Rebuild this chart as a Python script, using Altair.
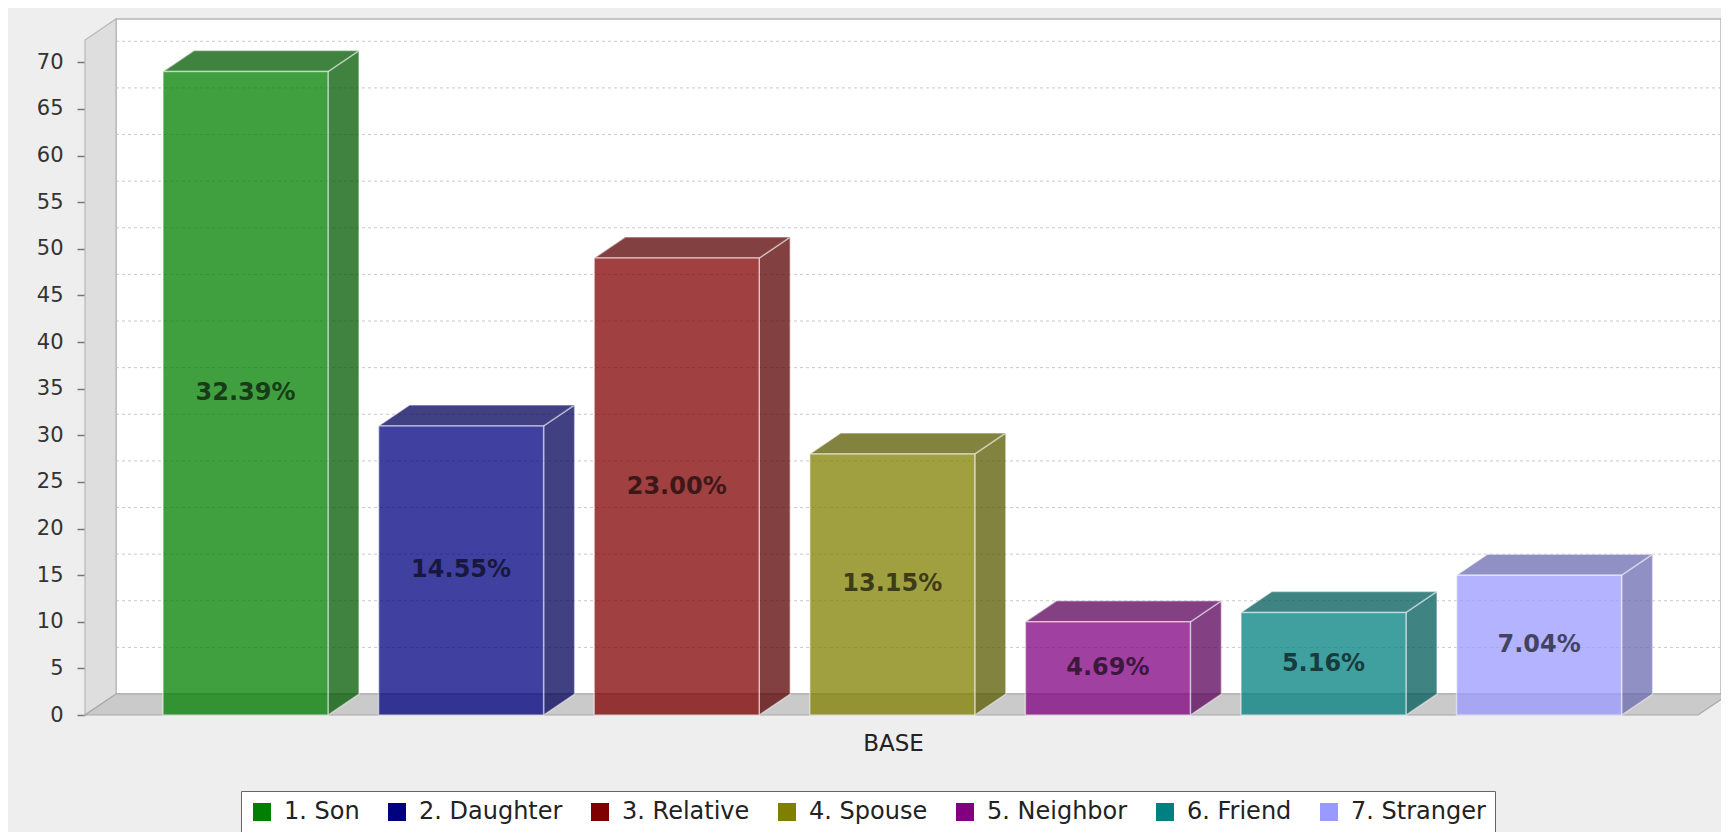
import altair as alt
import pandas as pd

# ---------------- data ----------------
categories = ["1. Son", "2. Daughter", "3. Relative", "4. Spouse",
              "5. Neighbor", "6. Friend", "7. Stranger"]
counts = [69, 31, 49, 28, 10, 11, 15]
series_colors = ["#008000", "#000080", "#800000", "#808000",
                 "#800080", "#008080", "#9999FF"]
y_ticks = [0, 5, 10, 15, 20, 25, 30, 35, 40, 45, 50, 55, 60, 65, 70]
axis_title = "BASE"

# ---------------- layout constants ----------------
W, H = 1636, 696
PX_PER_UNIT = 9.3243
Y_MAX = H / PX_PER_UNIT          # top of back wall (value units)
DX = 31                          # 3D depth, x (px units)
DY = 21 / PX_PER_UNIT            # 3D depth, y (value units)
FRONT_TOP = Y_MAX - DY
SLOT = 215.6
LEFT = 78
BAR_W = 165
FLOOR_W = 1613
FONT = "DejaVu Sans"


def darker(hexc, f=0.7):
    h = hexc.lstrip("#")
    r, g, b = (int(h[i:i + 2], 16) for i in (0, 2, 4))
    return "#%02x%02x%02x" % (int(r * f), int(g * f), int(b * f))


dark_colors = [darker(c) for c in series_colors]
total = sum(counts)

bars, sides, tops = [], [], []
for i, (cat, v) in enumerate(zip(categories, counts)):
    x0 = LEFT + i * SLOT
    x1 = x0 + BAR_W
    bars.append(dict(cat=cat, x0=x0, x1=x1, xm=(x0 + x1) / 2, v=v,
                     lo=0, ym=v / 2, label=f"{v / total * 100:.2f}%"))
    sides += [dict(cat=cat, x=x1, lo=0, hi=v),
              dict(cat=cat, x=x1 + DX, lo=DY, hi=v + DY)]
    tops += [dict(cat=cat, x=x0, lo=v, hi=v),
             dict(cat=cat, x=x0 + DX, lo=v, hi=v + DY),
             dict(cat=cat, x=x1, lo=v, hi=v + DY),
             dict(cat=cat, x=x1 + DX, lo=v + DY, hi=v + DY)]

bars_df = pd.DataFrame(bars)
sides_df = pd.DataFrame(sides)
tops_df = pd.DataFrame(tops)
wall_df = pd.DataFrame([dict(x0=DX, x1=W, lo=DY, hi=Y_MAX)])
grid_df = pd.DataFrame([dict(x0=DX, x1=W, y=t + DY) for t in y_ticks if t > 0])
left_df = pd.DataFrame([dict(x=0, lo=0, hi=FRONT_TOP),
                        dict(x=DX, lo=DY, hi=Y_MAX)])
floor_df = pd.DataFrame([dict(x=0, lo=0, hi=0),
                         dict(x=DX, lo=0, hi=DY),
                         dict(x=FLOOR_W, lo=0, hi=DY),
                         dict(x=FLOOR_W + DX, lo=DY, hi=DY)])

xscale = alt.Scale(domain=[0, W], nice=False, zero=False)
yscale = alt.Scale(domain=[0, Y_MAX], nice=False, zero=False)
xaxis = alt.Axis(title=axis_title, labels=False, ticks=False, domain=False,
                 grid=False, titleFont=FONT, titleFontSize=23,
                 titleFontWeight="normal", titleColor="#222222",
                 titleX=808, titleY=35, titleBaseline="alphabetic")
yaxis = alt.Axis(title=None, values=y_ticks, grid=False, domain=False,
                 tickSize=8, tickColor="#777777", tickWidth=1.5,
                 labelPadding=14, labelFont=FONT, labelFontSize=21,
                 labelColor="#333333")


def X(f):
    return alt.X(f, type="quantitative", scale=xscale, axis=xaxis)


def Y(f):
    return alt.Y(f, type="quantitative", scale=yscale, axis=yaxis, stack=None)


back_wall = alt.Chart(wall_df).mark_rect(
    fill="white", stroke="#B5B5B5", strokeWidth=1.5
).encode(x=X("x0"), x2="x1", y=Y("lo"), y2="hi")

grid = alt.Chart(grid_df).mark_rule(
    color="#C8C8C8", strokeWidth=1, strokeDash=[3, 3]
).encode(x=X("x0"), x2="x1", y=Y("y"))

left_wall = alt.Chart(left_df).mark_area(
    fill="#DEDEDE", stroke="#B8B8B8", strokeWidth=1.2
).encode(x=X("x"), y=Y("lo"), y2="hi")

floor = alt.Chart(floor_df).mark_area(
    fill="#CACACA", stroke="#A8A8A8", strokeWidth=1.2
).encode(x=X("x"), y=Y("lo"), y2="hi")

face_fill = alt.Fill("cat:N", scale=alt.Scale(domain=categories, range=dark_colors),
                     legend=None)

side_faces = alt.Chart(sides_df).mark_area(
    fillOpacity=0.75, stroke="white", strokeOpacity=0.45, strokeWidth=1.5
).encode(x=X("x"), y=Y("lo"), y2="hi", fill=face_fill)

top_faces = alt.Chart(tops_df).mark_area(
    fillOpacity=0.75, stroke="white", strokeOpacity=0.45, strokeWidth=1.5
).encode(x=X("x"), y=Y("lo"), y2="hi", fill=face_fill)

fronts = alt.Chart(bars_df).mark_bar(
    fillOpacity=0.75, stroke="white", strokeOpacity=0.5, strokeWidth=1.5
).encode(
    x=X("x0"), x2="x1", y=Y("lo"), y2="v",
    color=alt.Color("cat:N", scale=alt.Scale(domain=categories, range=series_colors),
                    legend=alt.Legend(
                        title=None, orient="none", legendX=156, legendY=772,
                        direction="horizontal", columns=7,
                        fillColor="white", strokeColor="#666666", padding=9,
                        symbolType="square", symbolSize=324, symbolOpacity=1,
                        symbolStrokeWidth=0, labelFont=FONT, labelFontSize=24,
                        labelColor="#222222", labelOffset=10, columnPadding=25)),
)

labels = alt.Chart(bars_df).mark_text(
    font=FONT, fontSize=24, fontWeight="bold", color="black", opacity=0.62,
    align="center", baseline="middle"
).encode(x=X("xm"), y=Y("ym"), text="label:N")

chart = alt.layer(
    back_wall, grid, left_wall, floor, side_faces, top_faces, fronts, labels
).resolve_scale(fill="independent").properties(
    width=W, height=H,
    padding={"left": 77, "top": 11, "right": 0, "bottom": 117},
    autosize=alt.AutoSizeParams(type="none"),
    background="#EEEEEE",
).configure_view(strokeWidth=0)

chart.save("out.html", embed_options={"renderer": "svg", "actions": False})
